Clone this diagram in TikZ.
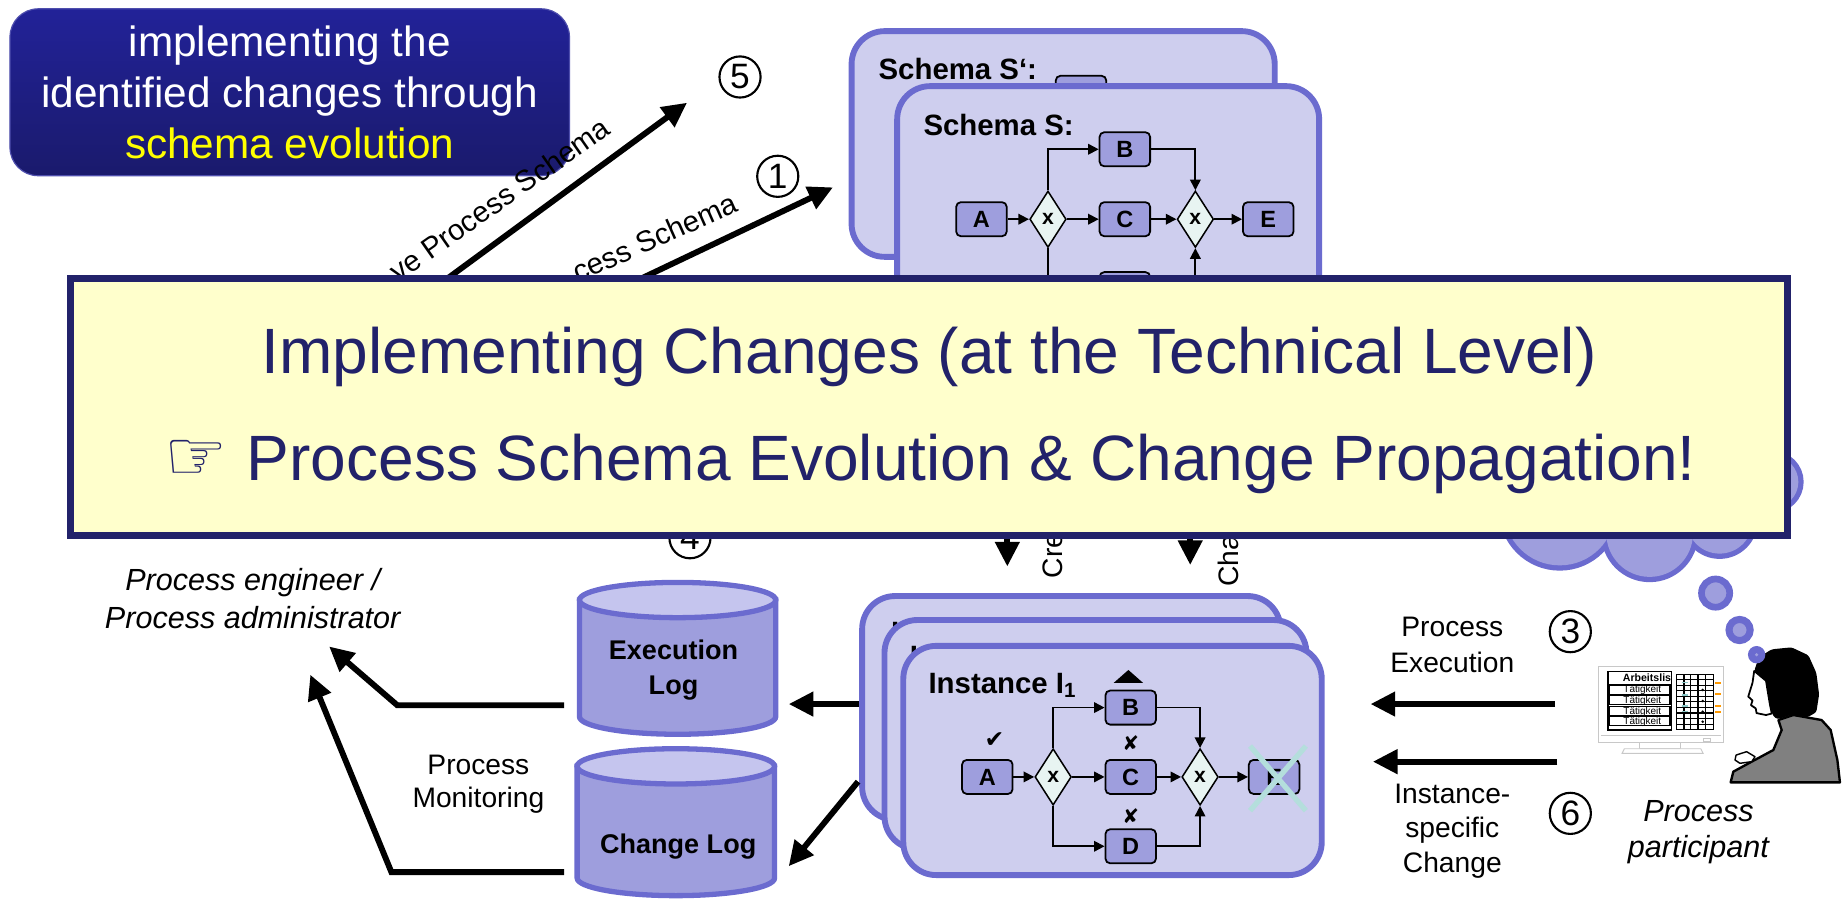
\documentclass[tikz,border=0pt]{standalone}
\usepackage{fontspec}
\setmainfont{Liberation Sans}
\newfontfamily\symfont{DejaVu Sans}
\usetikzlibrary{arrows.meta,shapes.geometric}

\definecolor{navy}{RGB}{34,34,106}
\definecolor{paper}{RGB}{255,255,204}
\definecolor{boxedge}{RGB}{107,107,207}
\definecolor{boxfill}{RGB}{206,206,238}
\definecolor{taskfill}{RGB}{158,158,221}
\definecolor{drumtop}{RGB}{197,197,238}
\definecolor{gatefill}{RGB}{232,244,242}
\definecolor{crossout}{RGB}{180,222,220}
\definecolor{bannertop}{RGB}{34,34,152}
\definecolor{bannerbot}{RGB}{26,26,108}
\definecolor{highlight}{RGB}{255,255,0}
\definecolor{suit}{RGB}{128,128,128}
\definecolor{screenline}{RGB}{200,200,200}
\definecolor{gridmark}{RGB}{140,200,200}
\definecolor{flag}{RGB}{255,153,0}

\tikzset{
  panel/.style={draw=boxedge, fill=boxfill, line width=5pt, rounded corners=28pt, inner sep=0pt},
  task/.style={draw=black, fill=taskfill, line width=1.5pt, rounded corners=4pt,
    minimum width=43pt, minimum height=29pt, inner sep=0pt,
    font=\bfseries\fontsize{20}{20}\selectfont},
  gate/.style={diamond, draw=black, fill=gatefill, line width=1.3pt,
    minimum width=31pt, minimum height=48pt, inner sep=0pt,
    font=\bfseries\fontsize{18}{18}\selectfont},
  flow/.style={line width=1.5pt, -{Triangle[length=9pt,width=9pt]}},
  bigarrow/.style={line width=5pt, -{Triangle[length=21pt,width=20pt]}},
  numcirc/.style={circle, draw, line width=1.8pt, minimum size=35pt, inner sep=0pt,
    font=\fontsize{30}{30}\selectfont},
  txt/.style={align=center, inner sep=0pt, font=\fontsize{24}{#1}\selectfont},
  txt/.default=28,
  role/.style={align=center, inner sep=0pt, font=\itshape\fontsize{26}{#1}\selectfont},
  role/.default=31,
  boxtitle/.style={anchor=base west, inner sep=0pt, font=\bfseries\fontsize{25}{25}\selectfont},
  slanted/.style={anchor=base east, inner sep=0pt, font=\fontsize{25}{25}\selectfont},
  upright/.style={rotate=90, anchor=base west, inner sep=0pt, font=\fontsize{24}{24}\selectfont},
  drumline/.style={draw=boxedge, line width=4.5pt},
  puff/.style={draw=boxedge, line width=9pt},
}

\begin{document}
\begin{tikzpicture}[x=1pt,y=-1pt]
\useasboundingbox (0,0) rectangle (1568,767);

% ---------- goal banner ----------
\node[rounded corners=24pt, top color=bannertop, bottom color=bannerbot,
      draw=bannertop!80!white, line width=1pt, minimum width=476pt, minimum height=142pt,
      text=white, align=center, font=\fontsize{36}{43.3}\selectfont] (goal) at (246.5,78.5)
  {implementing the\\identified changes through\\{\color{highlight}schema evolution}};

% ---------- schema level arrows ----------
\coordinate (evolveFrom) at (262,324);
\coordinate (evolveTo) at (584.5,87.4);
\coordinate (createFrom) at (347.7,331);
\coordinate (createTo) at (708.7,159.4);
\draw[bigarrow] (evolveFrom) -- (evolveTo);
\draw[bigarrow] (createFrom) -- (createTo);
\node[slanted, rotate=35] (evolveLbl) at (521.1,112.9) {ve Process Schema};
\node[slanted, rotate=24] (createLbl) at (629.5,179.5) {cess Schema};
\node[numcirc] (n5) at (629.6,65.5) {5};
\node[numcirc] (n1) at (661.7,150) {1};

% ---------- schema S' (behind) ----------
\node[panel, minimum width=360pt, minimum height=192pt] (schemaSp) at (904.5,122.5) {};
\node[boxtitle] (schemaSpName) at (747.3,68) {Schema S‘:};
\node[task] (spB) at (919.7,79) {};

% ---------- schema S ----------
\node[panel, minimum width=359pt, minimum height=260pt] (schemaS) at (942.8,203.3) {};
\node[boxtitle] (schemaSName) at (785.5,115.7) {Schema S:};
\node[task] (sA) at (835,186.5) {A};
\node[gate] (sg1) at (891.6,186.5) {x};
\node[task] (sB) at (957,127) {B};
\node[task] (sC) at (957,186.5) {C};
\node[task] (sD) at (957,246) {};
\node[gate] (sg2) at (1017,186.5) {x};
\node[task] (sE) at (1079,186.5) {E};
\draw[flow] (sA) -- (sg1);
\draw[flow] (sg1.north) |- (sB);
\draw[flow] (sg1) -- (sC);
\draw[flow] (sg1.south) |- (sD);
\draw[flow] (sC) -- (sg2);
\draw[flow] (sB) -| (sg2.north);
\draw[flow] (sD) -| (sg2.south);
\draw[flow] (sg2) -- (sE);

% ---------- thought cloud (puffs drawn as a union of circles) ----------
\foreach \cx/\cy/\r in {1327/433.6/47.4, 1403.5/454/36.8, 1463/443/28, 1508/410/22,
                        1300/400/45, 1360/370/60, 1440/365/60, 1480/420/35}
  \draw[puff] (\cx,\cy) circle[radius=\r pt];
\foreach \cx/\cy/\r in {1327/433.6/47.4, 1403.5/454/36.8, 1463/443/28, 1508/410/22,
                        1300/400/45, 1360/370/60, 1440/365/60, 1480/420/35}
  \fill[taskfill] (\cx,\cy) circle[radius=\r pt];
\fill[taskfill] (1400,410) ellipse[x radius=90pt, y radius=40pt];

% ---------- instantiation arrows ----------
\coordinate (createInstFrom) at (857,420);
\coordinate (createInstTo) at (857,482);
\coordinate (propFrom) at (1012.6,420);
\coordinate (propTo) at (1012.6,480.7);
\draw[bigarrow] (createInstFrom) -- (createInstTo);
\draw[bigarrow] (propFrom) -- (propTo);
\node[upright] (createInstLbl) at (904,492) {Cre};
\node[upright] (propLbl) at (1053.5,499.6) {Cha};
\node[numcirc] (n4) at (587,457.5) {4};

% ---------- headline ----------
\node[draw=navy, fill=paper, line width=6pt, minimum width=1461pt, minimum height=218.6pt, inner sep=0pt] (headline) at (790.5,346.3) {};
\node[anchor=base, inner sep=0pt, text=navy, font=\fontsize{54.5}{54.5}\selectfont] (title1) at (790.5,317.5)
  {Implementing Changes (at the Technical Level)};
\node[anchor=base, inner sep=0pt, text=navy, font=\fontsize{54.5}{54.5}\selectfont] (title2) at (791.5,408.5)
  {{\symfont\fontsize{60}{60}\selectfont ☞}\hspace{16pt}Process Schema Evolution \& Change Propagation!};

% ---------- logs ----------
\path[drumline, fill=taskfill] (493,510.5) -- (493,609.7)
  arc[start angle=180, end angle=360, x radius=83.5pt, y radius=15pt] -- (660,510.5) -- cycle;
\path[drumline, fill=drumtop] (576.5,510.5) ellipse [x radius=83.5pt, y radius=15pt];
\node[align=center, inner sep=0pt, font=\bfseries\fontsize{23}{30}\selectfont] (execlog) at (573,570) {Execution\\Log};

\path[drumline, fill=taskfill] (491,652) -- (491,747)
  arc[start angle=180, end angle=360, x radius=84pt, y radius=15pt] -- (659,652) -- cycle;
\path[drumline, fill=drumtop] (575,652) ellipse [x radius=84pt, y radius=15pt];
\node[anchor=base, inner sep=0pt, font=\bfseries\fontsize{23}{23}\selectfont] (changelog) at (577,725.9) {Change Log};

% ---------- monitoring ----------
\node[role=32] (engineer) at (215,509.2) {Process engineer /\\Process administrator};
\node[txt=28.3] (monitoring) at (407,667.4) {Process\\Monitoring};
\coordinate (execOut) at (480,600);
\coordinate (execBend) at (338,600);
\coordinate (engInA) at (280,550);
\coordinate (changeOut) at (480,742);
\coordinate (changeBend) at (333,742);
\coordinate (engInB) at (264,574);
\draw[bigarrow] (execOut) -- (execBend) -- (engInA);
\draw[bigarrow] (changeOut) -- (changeBend) -- (engInB);

% ---------- instances ----------
\node[panel, minimum width=356pt, minimum height=190.4pt] (inst3) at (911.5,602.3) {};
\node[boxtitle] (inst3Name) at (758,546.4) {I};
\node[panel, minimum width=359pt, minimum height=195pt] (inst2) at (932,625) {};
\node[boxtitle] (inst2Name) at (774,567.4) {I};
\node[panel, minimum width=356pt, minimum height=195pt] (inst1) at (946.5,647) {};
\node[boxtitle] (inst1Name) at (789.8,590) {Instance I\textsubscript{1}};

\node[task] (iA) at (840,661) {A};
\node[gate] (ig1) at (896,661) {x};
\node[task] (iB) at (962,602) {B};
\node[task] (iC) at (962,661) {C};
\node[task] (iD) at (962,720) {D};
\node[gate] (ig2) at (1021,661) {x};
\node[task] (iE) at (1084,661) {E};
\draw[flow] (iA) -- (ig1);
\draw[flow] (ig1.north) |- (iB);
\draw[flow] (ig1) -- (iC);
\draw[flow] (ig1.south) |- (iD);
\draw[flow] (iC) -- (ig2);
\draw[flow] (iB) -| (ig2.north);
\draw[flow] (iD) -| (ig2.south);
\draw[flow] (ig2) -- (iE);

% execution states
\node[inner sep=0pt, font=\symfont\fontsize{20}{20}\selectfont] (doneA) at (846,630) {✔};
\node[inner sep=0pt, font=\symfont\fontsize{17}{17}\selectfont] (skipC) at (962,632) {✘};
\node[inner sep=0pt, font=\symfont\fontsize{17}{17}\selectfont] (skipD) at (962,694) {✘};
\fill (947.5,581) -- (972.5,581) -- (960,570) -- cycle;
\draw[crossout, line width=4.5pt] (1063.5,634.7) -- (1111,689.7);
\draw[crossout, line width=4.5pt] (1111,634.7) -- (1063.5,689.7);

% instances to logs
\coordinate (instExecOut) at (731,599);
\coordinate (execIn) at (671,599);
\coordinate (instChangeOut) at (730,665);
\coordinate (changeIn) at (671,737);
\draw[bigarrow] (instExecOut) -- (execIn);
\draw[bigarrow] (instChangeOut) -- (changeIn);

% ---------- participant side ----------
\coordinate (userExecOut) at (1323,599);
\coordinate (instExecIn) at (1166,599);
\coordinate (userChangeOut) at (1325,648);
\coordinate (instChangeIn) at (1168,648);
\draw[bigarrow] (userExecOut) -- (instExecIn);
\draw[bigarrow] (userChangeOut) -- (instChangeIn);
\node[txt=30] (execution) at (1235.6,548.6) {Process\\Execution};
\node[txt=29.2] (instchange) at (1235.6,707) {Instance-\\specific\\Change};
\node[numcirc] (n3) at (1336,537.4) {3};
\node[numcirc] (n6) at (1336,692) {6};
\node[role=31] (participant) at (1445,708) {Process\\participant};

% monitor
\begin{scope}[line width=0.8pt]
  \draw[screenline, fill=white] (1360,566.6) rectangle (1466,632);
  \draw[screenline] (1362,626) -- (1464,626);
  \draw[screenline] (1449,628) rectangle (1455,630.5);
  \draw[screenline, fill=white] (1395,632) rectangle (1430,636.5);
  \draw[screenline, fill=white] (1382,637) -- (1447,637) -- (1449,641) -- (1380,641) -- cycle;
\end{scope}
\draw[line width=1pt] (1368,571) rectangle (1422,621);
\node[anchor=base west, inner sep=0pt, font=\bfseries\fontsize{9}{9}\selectfont] (worklist) at (1380.5,580) {Arbeitslis};
\foreach \top/\bot/\base [count=\k] in {582.8/590.5/589.5, 591.9/599.3/598.6, 601.2/608.6/607.8, 609.7/617.1/616.2} {
  \draw[line width=0.9pt] (1369.2,\top) rectangle (1420.8,\bot);
  \node[anchor=base west, inner sep=0pt, font=\fontsize{8.5}{8.5}\selectfont] (task\k) at (1381,\base) {Tätigkeit};
}
\draw[line width=1pt] (1426.5,573.7) rectangle (1457.7,620.5);
\foreach \gx in {1432.7,1438.4,1444.6,1451.1} \draw[line width=0.9pt] (\gx,573.7) -- (\gx,620.5);
\foreach \gy in {578.4,583.1,587.8,592.5,597.2,601.9,606.6,611.3,616} \draw[line width=0.9pt] (1426.5,\gy) -- (1457.7,\gy);
\foreach \gy in {587,596.4,605.5,614} \fill (1448.6,\gy) circle[radius=1.2pt];
\foreach \gy in {580.8,591.3,600.7,605.5} \draw[gridmark, line width=1.2pt] (1430.7,\gy) -- (1436.4,\gy);
\foreach \gy in {581.4,590.7,600.7,605.5} \draw[flag, line width=1.5pt] (1459.5,\gy) -- (1464.5,\gy);

% person at the screen
\filldraw[fill=suit, draw=black, line width=2pt, line join=round]
  (1513,612.6) -- (1525.7,608.3) -- (1549.8,612.6) -- (1557.5,621.1) -- (1563.2,646.6)
  -- (1565.4,665.6) -- (1472.4,665.6) -- (1474.7,656.5) -- (1490.3,648) -- (1508.7,638.1)
  -- (1515.8,621.1) -- cycle;
\begin{scope}[shift={(1525,612)}, scale=1.18, shift={(-1525,-612)}]
\fill[black, rounded corners=2pt]
  (1497.4,577.1) -- (1500.8,567.2) -- (1510.1,561.5) -- (1524.3,560.1) -- (1536.5,565.8)
  -- (1542.2,578.5) -- (1544.2,594.1) -- (1542.2,606.9) -- (1535.6,610.6) -- (1525.7,608.3)
  -- (1514.4,612) -- (1511,609.7) -- (1508.7,601.2) -- (1505.9,584.2) -- cycle;
\filldraw[fill=white, draw=black, line width=1.5pt, line join=round]
  (1497.4,577.1) -- (1496.2,585.6) -- (1493.1,595.6) -- (1496.2,598.4) -- (1495.1,601.8)
  -- (1498.5,604.1) -- (1499.1,607.5) -- (1505.9,608.9) -- (1510.1,607.8) -- (1508.7,601.2)
  -- (1505.9,584.2) -- cycle;
\end{scope}
\filldraw[fill=white, draw=black, line width=1.2pt, line join=round]
  (1477,642.4) -- (1486,639.5) -- (1493.1,643.8) -- (1490.3,648) -- (1480.3,649.4) -- (1476.1,646.6) -- cycle;

% thought bubbles rising from the participant
\draw[draw=boxedge, fill=taskfill, line width=5.7pt] (1459.6,504.6) circle[radius=12pt];
\draw[draw=boxedge, fill=taskfill, line width=6pt] (1480,536) circle[radius=9pt];
\fill[boxedge] (1494.5,557) circle[radius=7.4pt];
\fill[taskfill] (1494.5,557) circle[radius=1.5pt];
\end{tikzpicture}
\end{document}
